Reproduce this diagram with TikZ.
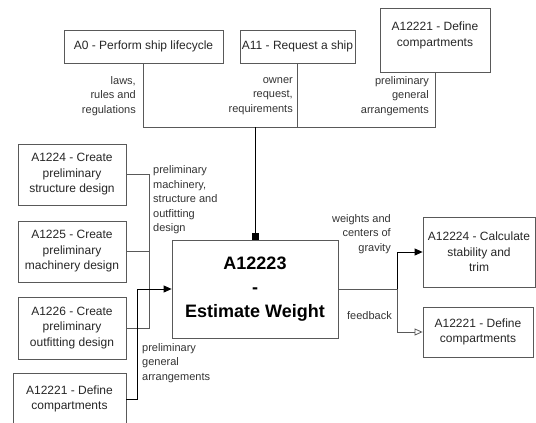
\documentclass[tikz,border=0pt]{standalone}
\usepackage{fontspec}
\setmainfont{Liberation Sans}
\usetikzlibrary{arrows.meta}
\begin{document}
\begin{tikzpicture}[x=1pt,y=-1pt,
    box/.style={draw=black!65,line width=0.8pt,align=center,inner sep=2pt,
      font=\fontsize{12}{15.5}\selectfont,text=black!85},
    note/.style={inner sep=0pt,font=\fontsize{11}{14.5}\selectfont,text=black!80},
    link/.style={draw=black!65,line width=0.8pt}]
  \useasboundingbox (0,0) rectangle (536,423);
  \draw
    (143.5,46.5) node[box,minimum width=159pt,minimum height=33pt] (a0){A0 - Perform ship lifecycle}
    (297.5,46.5) node[box,minimum width=115pt,minimum height=33pt] (a11){A11 - Request a ship}
    (435,40) node[box,minimum width=110pt,minimum height=64pt] (defT){A12221 - Define\\compartments\vphantom{p}\\[-4pt]}
    (72,174.5) node[box,minimum width=108pt,minimum height=61pt] (a1224){A1224 - Create\\preliminary\\structure design}
    (72,251.5) node[box,minimum width=108pt,minimum height=61pt] (a1225){A1225 - Create\\preliminary\\machinery design}
    (72,328) node[box,minimum width=108pt,minimum height=62pt] (a1226){A1226 - Create\\preliminary\\outfitting design}
    (69.5,399) node[box,minimum width=113pt,minimum height=52pt] (defL){A12221 - Define\\compartments}
    (255,289) node[box,minimum width=166pt,minimum height=98pt,
      font=\fontsize{18}{24}\selectfont\bfseries,text=black] (est){A12223\\-\\Estimate Weight}
    (479,252) node[box,minimum width=112pt,minimum height=70pt] (a12224){A12224 - Calculate\\stability and\\trim}
    (478,332) node[box,minimum width=110pt,minimum height=50pt] (defR){A12221 - Define\\compartments};
  \coordinate (bus) at (255,127);
  \coordinate (lbus) at (149,175);
  \coordinate (gbend) at (137,289);
  \coordinate (rsplit) at (397,289);
  \begin{scope}[link]
    \draw (a0.south) |- (defT.south |- bus) -- (defT.south);
    \draw (a11.south) -- (a11.south |- bus);
    \draw[draw=black,-{Square[length=7pt,width=7pt]}] (bus) -- (est.north);
    \draw (a1224.east) -| (a1226.east -| lbus) -- (a1226.east);
    \draw (a1225.east) -- (a1225.east -| lbus);
    \draw[draw=black,-{Triangle[length=8pt,width=7pt]}] (defL.east) -| (gbend) -- (est.west);
    \draw (est.east) -- (rsplit);
    \draw[draw=black,-{Triangle[length=8pt,width=7pt]}] (rsplit) |- (a12224.west);
    \draw[-{Triangle[open,length=8pt,width=7pt]}] (rsplit) |- (defR.west);
  \end{scope}
  \draw
    (136,96) node[note,anchor=east,align=right] (n0){laws,\\rules and\\regulations}
    (293,96) node[note,anchor=east,align=right] (n11){owner\\request,\\requirements}
    (429,96) node[note,anchor=east,align=right] (nT){preliminary\\general\\arrangements}
    (153,200) node[note,anchor=west,align=left] (nD){preliminary\\machinery,\\structure and\\outfitting\\design}
    (142,363) node[note,anchor=west,align=left] (nL){preliminary\\general\\arrangements}
    (391,234) node[note,anchor=east,align=right] (nW){weights and\\centers of\\gravity}
    (392,316) node[note,anchor=east] (nF){feedback};
\end{tikzpicture}
\end{document}
